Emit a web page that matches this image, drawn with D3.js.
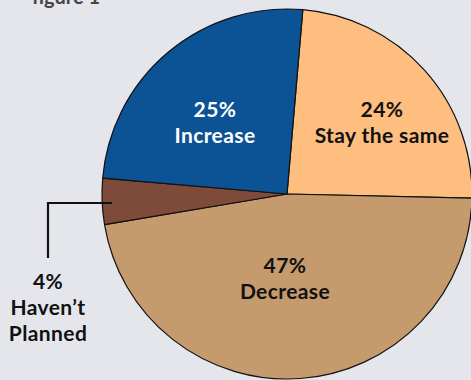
<!DOCTYPE html>
<html><head><meta charset="utf-8">
<script src="https://cdn.jsdelivr.net/npm/d3@7"></script>
<style>html,body{margin:0;padding:0;background:#e5e6ec;}svg{display:block;}</style>
</head><body>
<svg id="c" width="471" height="380"></svg>
<script>
const categories = ["Stay the same", "Decrease", "Haven\u2019t Planned", "Increase"];
const values = [24, 47, 4, 25];
const labelLines = [["24%", "Stay the same"], ["47%", "Decrease"], ["4%", "Haven\u2019t", "Planned"], ["25%", "Increase"]];
const colors = ["#fdbe80", "#c59a6d", "#7e4a3a", "#0b5394"];
const textColors = ["#111", "#111", "#111", "#fff"];

const svg = d3.select("#c");
const W = 471, H = 380;
svg.append("rect").attr("width", W).attr("height", H).attr("fill", "#e5e6ec");

svg.append("text").attr("x", 32).attr("y", 4).text("figure 1")
  .attr("font-family", "Lato, sans-serif").attr("font-weight", 700).attr("font-size", 20).attr("fill", "#444");

const cx = 287, cy = 194, r = 185;
const startOffset = 4.9 * Math.PI / 180;
const pie = d3.pie().sort(null).startAngle(startOffset).endAngle(startOffset + 2 * Math.PI)(values);
const arc = d3.arc().innerRadius(0).outerRadius(r);
const g = svg.append("g").attr("transform", `translate(${cx},${cy})`);
g.selectAll("path").data(pie).join("path")
  .attr("d", arc).attr("fill", (d, i) => colors[i])
  .attr("stroke", "#111").attr("stroke-width", 1.2).attr("stroke-linejoin", "round");

const fontStyle = sel => sel.attr("font-family", "Lato, sans-serif").attr("font-weight", 700)
  .attr("font-size", 21).attr("letter-spacing", 0.4).attr("text-anchor", "middle");

const labelPos = [[382, 117], [285, 273], [48, 289], [215, 117]];
pie.forEach((d, i) => {
  const t = svg.append("text").call(fontStyle).attr("fill", textColors[i]);
  labelLines[i].forEach((ln, k) => t.append("tspan").attr("x", labelPos[i][0]).attr("y", labelPos[i][1] + k * 26).text(ln));
});

// leader line for the small slice, anchored inside the slice at its mid-angle
const small = pie[2];
const mid = (small.startAngle + small.endAngle) / 2;
const ax = cx + Math.sin(mid) * (r - 10), ay = cy - Math.cos(mid) * (r - 10) + 2;
svg.append("path").attr("d", `M${ax},${ay}H48V258`).attr("fill", "none").attr("stroke", "#111").attr("stroke-width", 2.2);
</script>
</body></html>
